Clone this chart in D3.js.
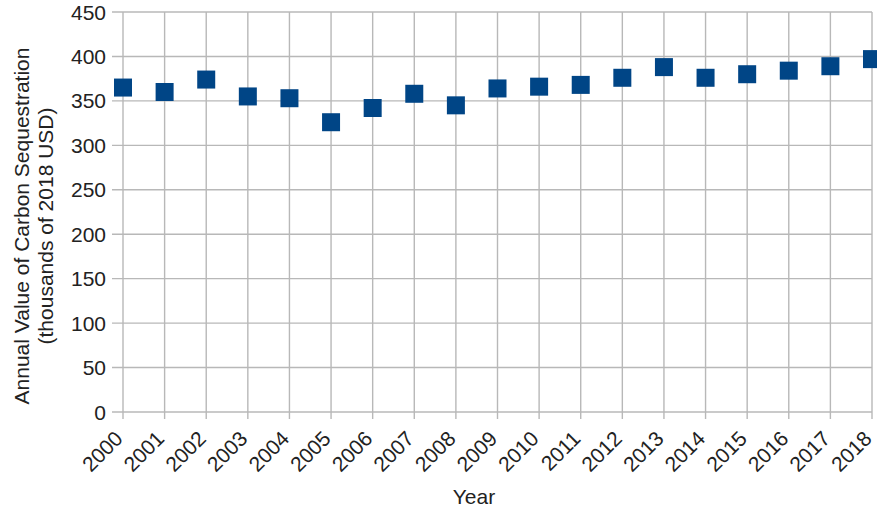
<!DOCTYPE html>
<html><head><meta charset="utf-8">
<script src="https://cdn.jsdelivr.net/npm/d3@7"></script>
<style>body{margin:0;background:#fff}svg{display:block}text{font-family:"Liberation Sans",Arial,sans-serif;fill:#222}</style>
</head><body><svg id="c" width="877" height="514"></svg>
<script>
const years = [2000,2001,2002,2003,2004,2005,2006,2007,2008,2009,2010,2011,2012,2013,2014,2015,2016,2017,2018];
const values = [365,360,374,355,353,326,342,358,345,364,366,368,376,388,376,380,384,389,397];
const yTicks = [0,50,100,150,200,250,300,350,400,450];
const yTitle = ["Annual Value of Carbon Sequestration","(thousands of 2018 USD)"];
const xTitle = "Year";

const svg = d3.select("#c");
const x = d3.scaleLinear().domain([2000,2018]).range([123,872]);
const y = d3.scaleLinear().domain([0,450]).range([412,12]);
const grid = "#b8b8b8";
const fs = 21;
const g = svg.append("g");
g.selectAll("line.h").data(yTicks).join("line")
  .attr("x1",112).attr("x2",872).attr("y1",d=>y(d)).attr("y2",d=>y(d))
  .attr("stroke",grid).attr("stroke-width",1.4);
g.selectAll("line.v").data(years).join("line")
  .attr("x1",d=>x(d)).attr("x2",d=>x(d)).attr("y1",y(450)).attr("y2",419)
  .attr("stroke",grid).attr("stroke-width",1.4);
g.selectAll("text.yl").data(yTicks).join("text")
  .attr("x",106).attr("y",d=>y(d)).attr("dy","0.36em").attr("text-anchor","end")
  .attr("font-size",fs).text(d=>d);
g.selectAll("text.xl").data(years).join("text")
  .attr("transform",d=>`translate(${x(d)+1},${440}) rotate(-45)`)
  .attr("text-anchor","end").attr("font-size",fs).text(d=>d);
g.append("text").attr("x",474).attr("y",504).attr("text-anchor","middle").attr("font-size",fs).text(xTitle);
g.selectAll("text.yt").data(yTitle).join("text")
  .attr("transform",(d,i)=>`translate(${29+i*24},226) rotate(-90)`)
  .attr("text-anchor","middle").attr("font-size",fs).text(d=>d);
const s = 18;
g.selectAll("rect.m").data(years).join("rect")
  .attr("x",(d)=>x(d)-s/2).attr("y",(d,i)=>y(values[i])-s/2)
  .attr("width",s).attr("height",s).attr("fill","#004586");
</script></body></html>
